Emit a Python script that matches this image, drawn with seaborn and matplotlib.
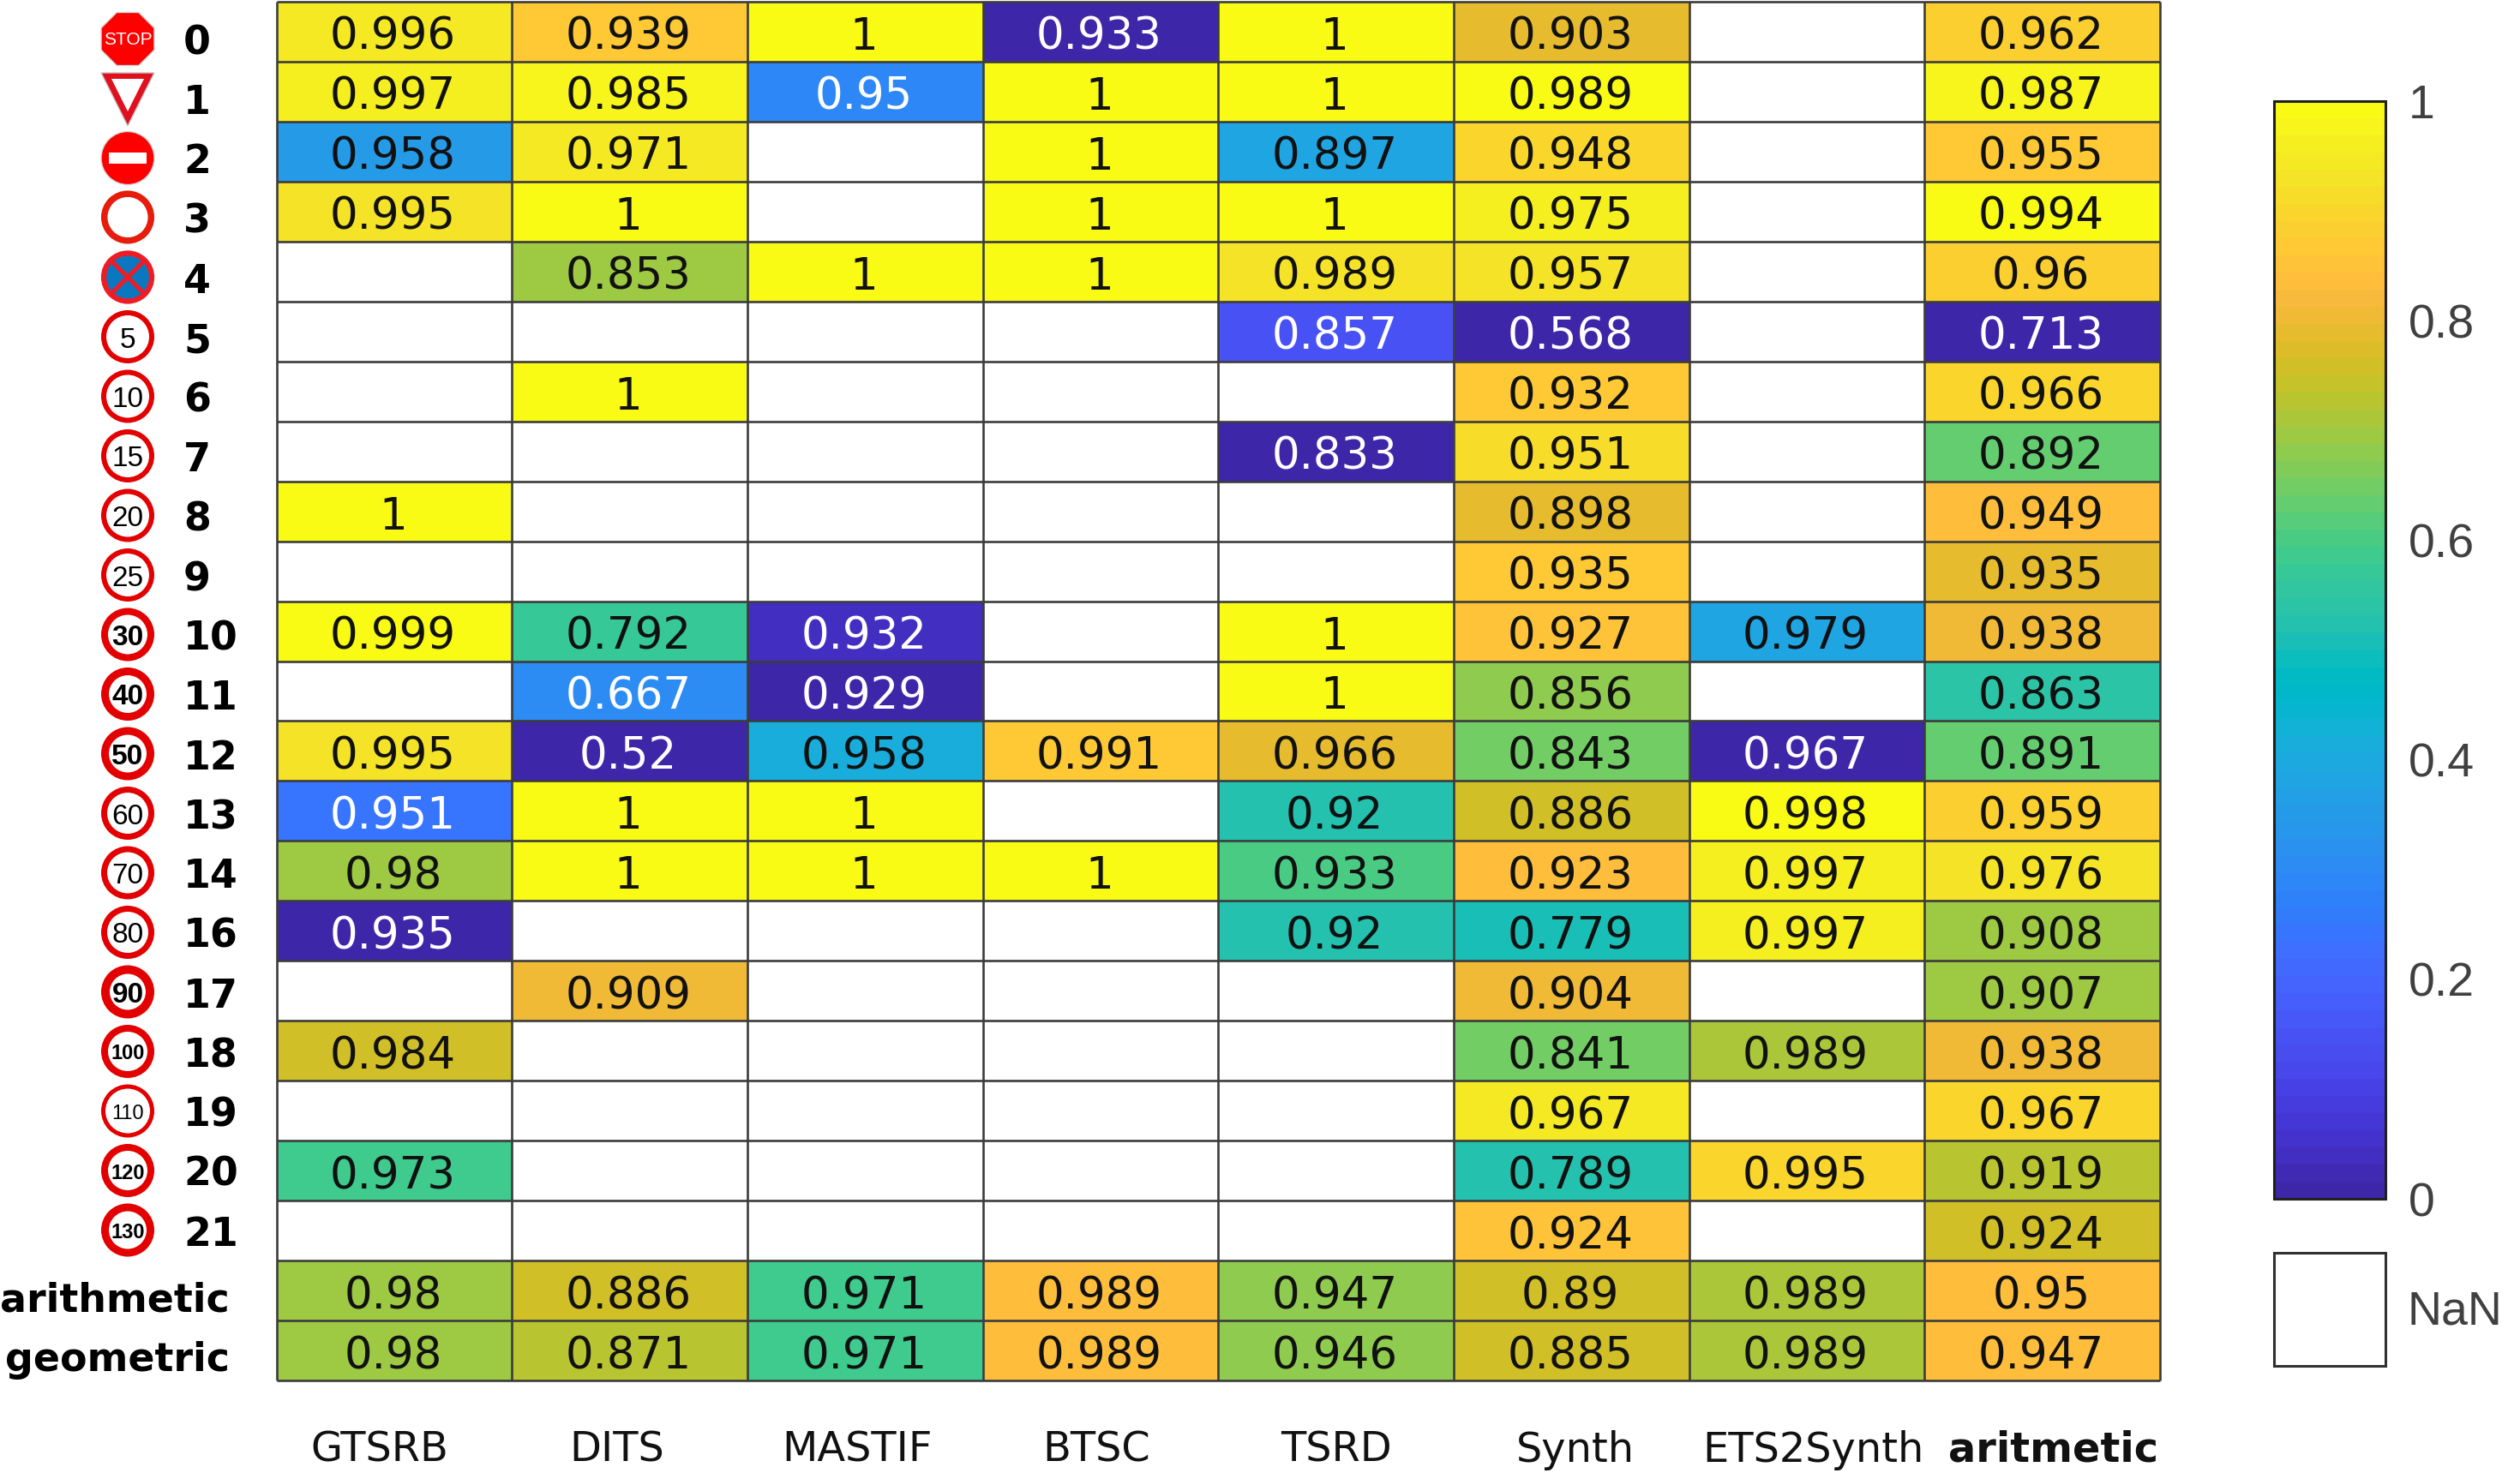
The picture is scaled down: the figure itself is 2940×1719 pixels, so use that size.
import numpy as np
import pandas as pd
import seaborn as sns
import matplotlib
matplotlib.use("Agg")
import matplotlib.pyplot as plt
from matplotlib.colors import ListedColormap
from matplotlib.patches import Circle, Polygon, RegularPolygon, Rectangle

n = np.nan
row_labels = ["0","1","2","3","4","5","6","7","8","9","10","11","12","13","14","16","17","18","19","20","21","arithmetic","geometric"]
col_labels = ["GTSRB","DITS","MASTIF","BTSC","TSRD","Synth","ETS2Synth","aritmetic"]
gtsrb = [.996,.997,.958,.995,n,n,n,n,1,n,.999,n,.995,.951,.98,.935,n,.984,n,.973,n,.98,.98]
dits = [.939,.985,.971,1,.853,n,1,n,n,n,.792,.667,.52,1,1,n,.909,n,n,n,n,.886,.871]
mastif = [1,.95,n,n,1,n,n,n,n,n,.932,.929,.958,1,1,n,n,n,n,n,n,.971,.971]
btsc = [.933,1,1,1,1,n,n,n,n,n,n,n,.991,n,1,n,n,n,n,n,n,.989,.989]
tsrd = [1,1,.897,1,.989,.857,n,.833,n,n,1,1,.966,.92,.933,.92,n,n,n,n,n,.947,.946]
synth = [.903,.989,.948,.975,.957,.568,.932,.951,.898,.935,.927,.856,.843,.886,.923,.779,.904,.841,.967,.789,.924,.89,.885]
ets2synth = [n,n,n,n,n,n,n,n,n,n,.979,n,.967,.998,.997,.997,n,.989,n,.995,n,.989,.989]
aritmetic = [.962,.987,.955,.994,.96,.713,.966,.892,.949,.935,.938,.863,.891,.959,.976,.908,.907,.938,.967,.919,.924,.95,.947]
cbar_ticks = [0,.2,.4,.6,.8,1]
speed_signs = ["5","10","15","20","25","30","40","50","60","70","80","90","100","110","120","130"]
parula_rgb = [(0.2422,0.1504,0.6603),(0.2504,0.1650,0.7076),(0.2578,0.1818,0.7511),(0.2647,0.1978,0.7952),
(0.2706,0.2147,0.8364),(0.2751,0.2342,0.8710),(0.2783,0.2559,0.8991),(0.2803,0.2782,0.9221),
(0.2813,0.3006,0.9414),(0.2810,0.3228,0.9579),(0.2795,0.3447,0.9717),(0.2760,0.3667,0.9829),
(0.2699,0.3892,0.9906),(0.2602,0.4123,0.9952),(0.2440,0.4358,0.9988),(0.2206,0.4603,0.9973),
(0.1963,0.4847,0.9892),(0.1834,0.5074,0.9798),(0.1786,0.5289,0.9682),(0.1764,0.5499,0.9520),
(0.1687,0.5703,0.9359),(0.1540,0.5902,0.9218),(0.1460,0.6091,0.9079),(0.1380,0.6276,0.8973),
(0.1248,0.6459,0.8883),(0.1113,0.6635,0.8763),(0.0952,0.6798,0.8598),(0.0689,0.6948,0.8394),
(0.0297,0.7082,0.8163),(0.0036,0.7203,0.7917),(0.0067,0.7312,0.7660),(0.0433,0.7411,0.7394),
(0.0964,0.7500,0.7120),(0.1408,0.7584,0.6842),(0.1717,0.7670,0.6554),(0.1938,0.7758,0.6251),
(0.2161,0.7843,0.5923),(0.2470,0.7918,0.5567),(0.2906,0.7973,0.5188),(0.3406,0.8008,0.4789),
(0.3909,0.8029,0.4354),(0.4456,0.8024,0.3909),(0.5044,0.7993,0.3480),(0.5616,0.7942,0.3045),
(0.6174,0.7876,0.2612),(0.6720,0.7793,0.2227),(0.7242,0.7698,0.1910),(0.7738,0.7598,0.1646),
(0.8203,0.7498,0.1535),(0.8634,0.7406,0.1596),(0.9035,0.7330,0.1774),(0.9393,0.7288,0.2100),
(0.9728,0.7298,0.2394),(0.9956,0.7434,0.2371),(0.9970,0.7659,0.2199),(0.9952,0.7893,0.2028),
(0.9892,0.8136,0.1885),(0.9786,0.8386,0.1766),(0.9676,0.8639,0.1643),(0.9610,0.8890,0.1537),
(0.9597,0.9135,0.1423),(0.9628,0.9373,0.1265),(0.9691,0.9606,0.1064),(0.9769,0.9839,0.0805)]
parula = ListedColormap(parula_rgb)

sns.set_theme(style="white")
W, H = 2940, 1719
fig = plt.figure(figsize=(W/100, H/100), dpi=100, facecolor="white")
def rect(x0, y0, x1, y1):
    return [x0/W, 1-y1/H, (x1-x0)/W, (y1-y0)/H]

df = pd.DataFrame(dict(zip(col_labels, [gtsrb,dits,mastif,btsc,tsrd,synth,ets2synth,aritmetic])), index=row_labels)
norm = (df - df.min()) / (df.max() - df.min())      # every column is scaled on its own
annot = df.map(lambda v: "" if np.isnan(v) else f"{v:g}")

ax = fig.add_axes(rect(322.5, 2, 2520, 1611))
cax = fig.add_axes(rect(2653, 118, 2783, 1399))
GRID = "#3c3c3c"
sns.heatmap(norm, ax=ax, cmap=parula, vmin=0, vmax=1, annot=annot, fmt="", cbar_ax=cax,
            annot_kws={"fontsize": 37, "family": "DejaVu Sans"}, xticklabels=False, yticklabels=False)
for t in ax.texts:
    r, c = int(t.get_position()[1]), int(t.get_position()[0])
    t.set_color("white" if norm.iat[r, c] < 0.33 else "#111111")
    t.set_y(r + 0.60)
    t.set_x(c + 0.495)
nr, nc = df.shape
ax.hlines(np.arange(nr+1), 0, nc, color=GRID, lw=1.9, clip_on=False, zorder=3)
ax.vlines(np.arange(nc+1), 0, nr, color=GRID, lw=1.9, clip_on=False, zorder=3)

cb = ax.collections[0].colorbar
cb.set_ticks(cbar_ticks)
cb.set_ticklabels([f"{v:g}" for v in cbar_ticks])
cax.tick_params(axis="y", direction="in", length=9, width=1.3, color="#303030", right=True, pad=19,
                labelsize=40, labelcolor="#404040")
for l in cax.get_yticklabels():
    l.set_family("Liberation Sans")
cb.outline.set_edgecolor("#202020")
cb.outline.set_linewidth(2.2)
cb.outline.set_visible(True)

# overlay in pixel units for the row signs, labels and the NaN key
ov = fig.add_axes([0, 0, 1, 1])
ov.set_xlim(0, W); ov.set_ylim(H, 0); ov.axis("off"); ov.patch.set_alpha(0)

ov.add_patch(Rectangle((2653, 1462), 130, 132, fc="white", ec="#303030", lw=2.2))
ov.text(2809, 1531, "NaN", fontsize=40, family="Liberation Sans", color="#404040", va="center", ha="left")

SIGN_FONT = "Liberation Sans"
SX, R = 149, 31
def sy(i): return 45.5 + 69.5*i

# 0 stop
y = sy(0)
ov.add_patch(RegularPolygon((SX, y), 8, radius=R/np.cos(np.pi/8), orientation=np.pi/8, fc="#fe0000", ec="#d8d8d8", lw=1))
ov.text(SX, y+1, "STOP", color="white", fontsize=15, family=SIGN_FONT, ha="center", va="center")
# 1 yield
y = sy(1)
ov.add_patch(Polygon([(SX-31, y-30), (SX+31, y-30), (SX, y+32)], closed=True, fc="#e0101f", ec="#c8c8c8", lw=1))
ov.add_patch(Polygon([(SX-19, y-23), (SX+19, y-23), (SX, y+15)], closed=True, fc="white", ec="none"))
# 2 no entry
y = sy(2)
ov.add_patch(Circle((SX, y), R, fc="#fe0000", ec="#d8d8d8", lw=1))
ov.add_patch(Rectangle((SX-22, y-6.5), 44, 13, fc="white", ec="none"))
# 3 ring
y = sy(3)
ov.add_patch(Circle((SX, y-0.5), R-3.7, fc="white", ec="#e61c0c", lw=5.4))
# 4 no stopping
y = sy(4)
ov.add_patch(Circle((SX, y), R-3, fc="#0a78c0", ec="#ee1c25", lw=4.5))
d = 21
ov.plot([SX-d, SX+d], [y-d, y+d], color="#ee1c25", lw=3.6, solid_capstyle="butt")
ov.plot([SX-d, SX+d], [y+d, y-d], color="#ee1c25", lw=3.6, solid_capstyle="butt")
# speed limits
ring_px = [6, 6, 6, 6, 6, 8, 9, 9, 7, 7, 7, 10, 8, 5, 8, 9]
for k, (s, rp) in enumerate(zip(speed_signs, ring_px)):
    y = sy(5+k)
    ov.add_patch(Circle((SX, y), R-rp/2, fc="white", ec="#e20000", lw=rp*0.72))
    fs = {1: 24, 2: 24}.get(len(s), 17)
    ov.text(SX, y+0.5, s, color="black", fontsize=fs, family=SIGN_FONT, ha="center", va="center_baseline",
            fontweight="bold" if rp >= 8 else "normal")

# row labels
for i, s in enumerate(row_labels[:21]):
    ov.text(214, 46 + 69.5*i, s, fontsize=33, fontweight="bold", family="DejaVu Sans", color="black",
            ha="left", va="center_baseline")
ov.text(268, 1513, row_labels[21], fontsize=33, fontweight="bold", family="DejaVu Sans", color="black", ha="right", va="center_baseline")
ov.text(268, 1582, row_labels[22], fontsize=33, fontweight="bold", family="DejaVu Sans", color="black", ha="right", va="center_baseline")

# column labels
col_x = [443, 720, 1000, 1279, 1559, 1838, 2115, 2396]
for i, (s, x) in enumerate(zip(col_labels, col_x)):
    last = i == len(col_labels)-1
    ov.text(x, 1706, s, fontsize=34.5, family="DejaVu Sans", color="#111111", fontweight="bold" if last else "normal",
            ha="center", va="baseline")
fig.savefig("out.png", dpi=100, facecolor="white")
